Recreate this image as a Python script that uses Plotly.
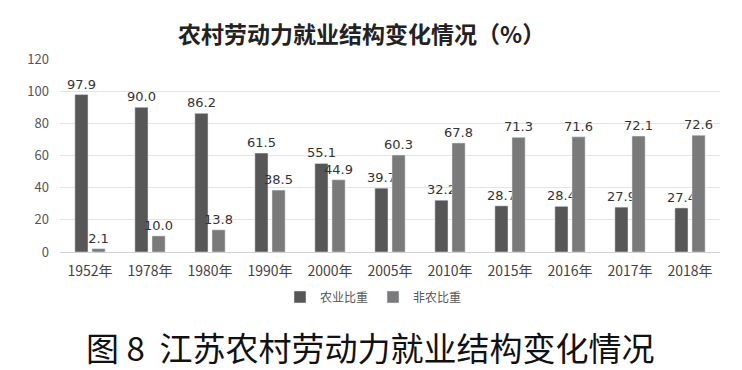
import plotly.graph_objects as go

categories = ["1952年", "1978年", "1980年", "1990年", "2000年", "2005年", "2010年", "2015年", "2016年", "2017年", "2018年"]
agri = [97.9, 90.0, 86.2, 61.5, 55.1, 39.7, 32.2, 28.7, 28.4, 27.9, 27.4]
non_agri = [2.1, 10.0, 13.8, 38.5, 44.9, 60.3, 67.8, 71.3, 71.6, 72.1, 72.6]
y_ticks = [0, 20, 40, 60, 80, 100, 120]

FONT = "Noto Sans CJK SC"
LABEL_FONT = "DejaVu Sans"

fig = go.Figure()
fig.add_trace(go.Bar(
    x=categories, y=agri, name="农业比重",
    marker=dict(color="#575757"),
    text=[f"{v:.1f}" for v in agri], textposition="outside",
    textfont=dict(family=LABEL_FONT, size=13, color="#333333"),
    constraintext="none", cliponaxis=False,
))
fig.add_trace(go.Bar(
    x=categories, y=non_agri, name="非农比重",
    marker=dict(color="#7a7a7a"),
    text=[f"{v:.1f}" for v in non_agri], textposition="outside",
    textfont=dict(family=LABEL_FONT, size=13, color="#333333"),
    constraintext="none", cliponaxis=False,
))

fig.update_layout(
    width=734, height=362,
    margin=dict(l=52, r=22, t=51, b=118),
    paper_bgcolor="white", plot_bgcolor="white",
    barmode="group", bargap=0.43, bargroupgap=0.23,
    font=dict(family=FONT, color="#555555"),
    showlegend=True,
    legend=dict(orientation="h", x=0.475, xanchor="center", y=-0.233, yanchor="middle",
                font=dict(size=12, color="#555555")),
    annotations=[
        dict(text="<b>农村劳动力就业结构变化情况（%）</b>", x=0.457, xref="paper", y=1.135, yref="paper",
             xanchor="center", yanchor="middle", showarrow=False,
             font=dict(family=FONT, size=23, color="#222222")),
        dict(text="图 8  江苏农村劳动力就业结构变化情况", x=0.471, xref="paper", y=-0.493, yref="paper",
             xanchor="center", yanchor="middle", showarrow=False,
             font=dict(family=FONT, size=33, color="#111111")),
    ],
)
fig.update_xaxes(
    tickfont=dict(family=FONT, size=14, color="#444444"),
    showline=True, linecolor="#d0d0d0", ticks="", ticklabelstandoff=6,
)
fig.update_yaxes(
    range=[0, 120], tickvals=y_ticks,
    tickfont=dict(family=FONT, size=13, color="#555555"),
    showgrid=True, gridcolor="#e3e3e3", zeroline=False, ticks="", ticklabelstandoff=10,
)

fig.write_html("out.html")
